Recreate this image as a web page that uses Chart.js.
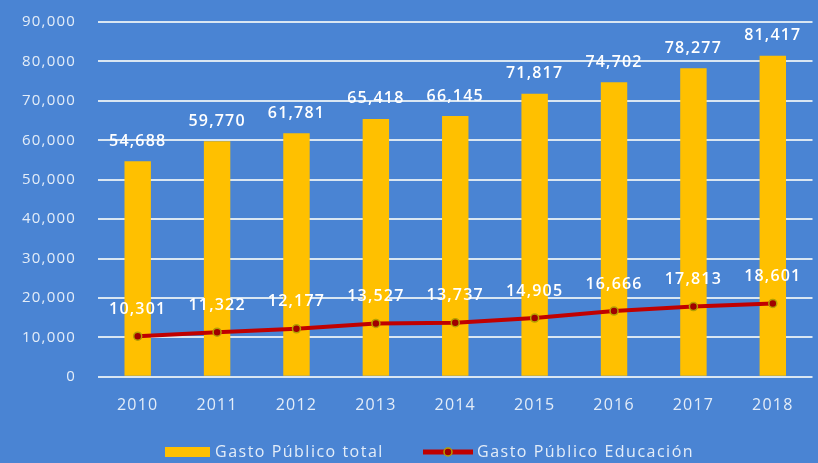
<!DOCTYPE html>
<html>
<head>
<meta charset="utf-8">
<script src="https://cdn.jsdelivr.net/npm/chart.js@4"></script>
<style>
  html, body { margin: 0; padding: 0; background: #4a84d3; }
  #wrap { width: 818px; height: 463px; }
</style>
</head>
<body>
<div id="wrap"><canvas id="grafico"></canvas></div>
<script>
const anios = ['2010', '2011', '2012', '2013', '2014', '2015', '2016', '2017', '2018'];
const gastoTotal = [54688, 59770, 61781, 65418, 66145, 71817, 74702, 78277, 81417];
const gastoEducacion = [10301, 11322, 12177, 13527, 13737, 14905, 16666, 17813, 18601];
const ticksY = [0, 10000, 20000, 30000, 40000, 50000, 60000, 70000, 80000, 90000];

const TEXTO = '#e4edf8';
const fmt = v => v.toLocaleString('en-US');

// el texto del original es más espaciado
const espaciado = {
    id: 'espaciado',
    beforeDraw(chart) { chart.ctx.letterSpacing = '1.2px'; }
};

// etiquetas de valor sobre barras y puntos
const etiquetas = {
    id: 'etiquetas',
    afterDatasetsDraw(chart) {
        const ctx = chart.ctx;
        ctx.save();
        ctx.fillStyle = '#ffffff';
        ctx.font = '600 16px "Open Sans"';
        ctx.textAlign = 'center';
        ctx.textBaseline = 'middle';
        chart.getDatasetMeta(0).data.forEach((el, i) => {
            ctx.fillText(fmt(gastoTotal[i]), el.x, el.y - 20);
        });
        chart.getDatasetMeta(1).data.forEach((el, i) => {
            ctx.fillText(fmt(gastoEducacion[i]), el.x, el.y - 27);
        });
        ctx.restore();
    }
};

// leyenda dibujada a mano para imitar la del original
const leyenda = {
    id: 'leyenda',
    afterDraw(chart) {
        const ctx = chart.ctx;
        const y = 452;
        ctx.save();
        ctx.fillStyle = '#ffc000';
        ctx.fillRect(165, y - 5, 45, 10);
        ctx.strokeStyle = '#c00000';
        ctx.lineWidth = 5;
        ctx.beginPath();
        ctx.moveTo(423, y);
        ctx.lineTo(473, y);
        ctx.stroke();
        ctx.beginPath();
        ctx.arc(448, y, 4, 0, Math.PI * 2);
        ctx.fillStyle = '#a00000';
        ctx.fill();
        ctx.lineWidth = 1.5;
        ctx.strokeStyle = '#b5a000';
        ctx.stroke();
        ctx.fillStyle = TEXTO;
        ctx.font = '16px "Open Sans"';
        ctx.letterSpacing = '1.5px';
        ctx.textBaseline = 'middle';
        ctx.fillText('Gasto Público total', 215, y);
        ctx.fillText('Gasto Público Educación', 477, y);
        ctx.restore();
    }
};

new Chart(document.getElementById('grafico'), {
    type: 'bar',
    data: {
        labels: anios,
        datasets: [
            {
                type: 'bar',
                label: 'Gasto Público total',
                data: gastoTotal,
                backgroundColor: '#ffc000',
                barPercentage: 0.64,
                categoryPercentage: 0.52,
                order: 2
            },
            {
                type: 'line',
                label: 'Gasto Público Educación',
                data: gastoEducacion,
                borderColor: '#c00000',
                borderWidth: 4,
                pointRadius: 4,
                pointBackgroundColor: '#a00000',
                pointBorderColor: '#b5a000',
                pointBorderWidth: 1.5,
                tension: 0,
                order: 1
            }
        ]
    },
    options: {
        responsive: true,
        maintainAspectRatio: false,
        animation: false,
        layout: { padding: { top: 22, right: 0, bottom: 29, left: 0 } },
        plugins: {
            legend: { display: false },
            tooltip: { enabled: false }
        },
        scales: {
            x: {
                grid: { display: false, drawTicks: false },
                border: { display: false },
                ticks: { color: TEXTO, font: { family: 'Open Sans', size: 16 }, padding: 19 }
            },
            y: {
                min: 0,
                max: 90000,
                afterBuildTicks: s => { s.ticks = ticksY.map(v => ({ value: v })); },
                afterFit: s => { s.width = 98; s.paddingTop = 0; s.paddingBottom = 0; },
                grid: { color: '#d9e6f2', lineWidth: 2, drawTicks: false },
                border: { display: false },
                ticks: {
                    color: TEXTO,
                    font: { family: 'Open Sans', size: 15 },
                    padding: 22,
                    callback: v => fmt(v)
                }
            }
        }
    },
    plugins: [espaciado, etiquetas, leyenda]
});
</script>
</body>
</html>
